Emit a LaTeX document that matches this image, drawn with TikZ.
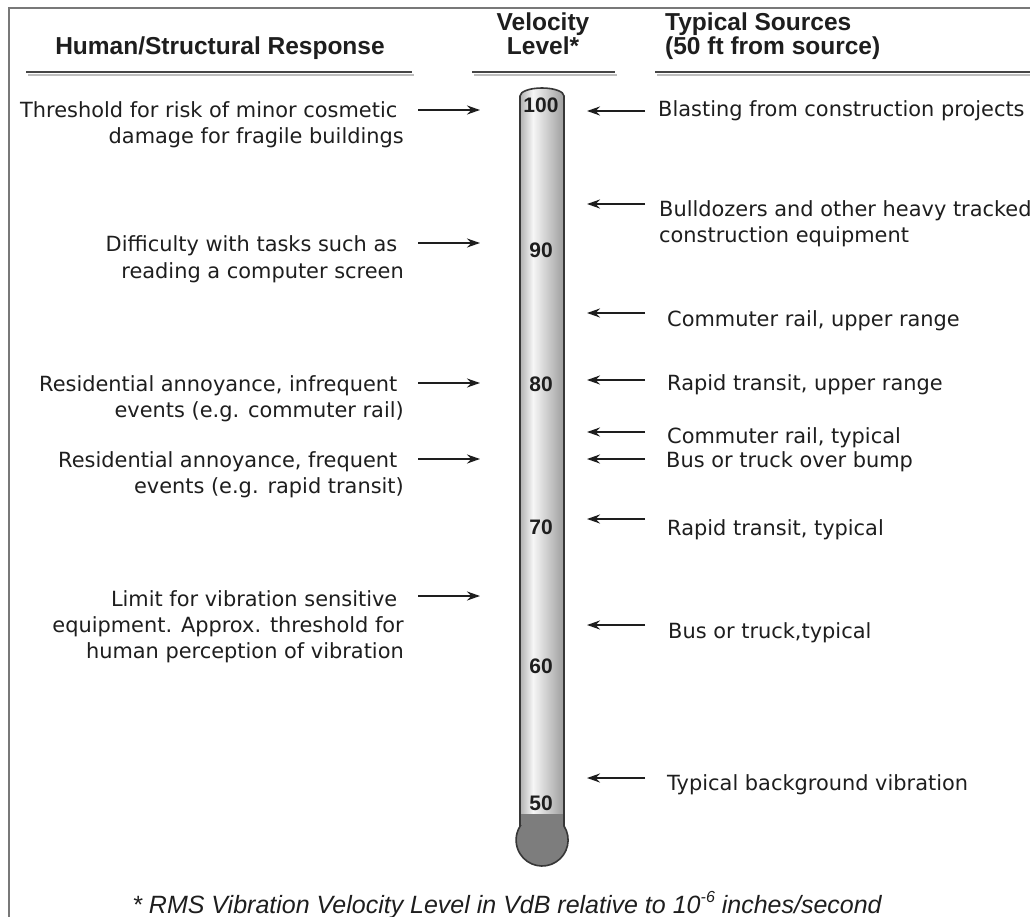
\documentclass[tikz,border=0pt]{standalone}
\usepackage{fontspec}
\setmainfont{DejaVu Sans}
\newfontfamily\hdfont{Liberation Sans}
\usetikzlibrary{arrows.meta}
\definecolor{txt}{RGB}{30,30,30}
\definecolor{framec}{RGB}{120,120,120}
\definecolor{ulc}{RGB}{70,70,70}
\definecolor{ulshadow}{RGB}{190,190,190}
\definecolor{tubeL}{RGB}{150,150,150}
\definecolor{tubeH}{RGB}{246,246,246}
\definecolor{tubeR}{RGB}{135,135,135}
\definecolor{bulbc}{RGB}{125,125,125}
\definecolor{outl}{RGB}{55,55,55}
\pgfdeclarehorizontalshading{tubeshade}{100bp}{color(0bp)=(tubeL); color(25bp)=(tubeL); color(41bp)=(tubeH); color(75bp)=(tubeR); color(100bp)=(tubeR)}
\newcommand{\thermoOutline}{(520,826) -- (520,96) arc[start angle=180, end angle=360, x radius=22, y radius=8] -- (564,826) arc[start angle=-32.6, end angle=212.6, radius=26] -- cycle}
\tikzset{
  body/.style={font=\fontsize{20.9}{26}\selectfont, inner sep=0pt, text=txt},
  hd/.style={font=\hdfont\bfseries\fontsize{24.5}{24}\selectfont, inner sep=0pt, text=txt},
  num/.style={font=\hdfont\bfseries\fontsize{21}{21}\selectfont, inner sep=0pt, text=txt},
  ft/.style={font=\hdfont\itshape\fontsize{25}{25}\selectfont, inner sep=0pt, text=txt},
  arr/.style={draw=txt, line width=2pt, -{Stealth[length=13pt, width=9pt]}},
  uline/.style={draw=ulc, line width=2.4pt},
  ushadow/.style={draw=ulshadow, line width=1.5pt},
}
\begin{document}
\begin{tikzpicture}[x=1pt, y=-1pt]
\useasboundingbox (0,0) rectangle (1030,917);
\fill[white] (0,0) rectangle (1030,917);
% frame
\draw[framec, line width=1.5pt] (9,917) -- (9,8) -- (1030,8);
% headers
\node[hd, anchor=base] (hHuman) at (220,55) {Human/Structural Response};
\node[hd, anchor=base, align=center] (hVel) at (543,55) {Velocity\\Level*};
\node[hd, anchor=base west, align=left] (hSrc) at (665,55) {Typical Sources\\(50 ft from source)};
% underlines
\coordinate (u1a) at (26,72); \coordinate (u1b) at (412,72);
\coordinate (u2a) at (472,72); \coordinate (u2b) at (615,72);
\coordinate (u3a) at (655,72); \coordinate (u3b) at (1030,72);
\coordinate (s1a) at (28,75); \coordinate (s1b) at (414,75);
\coordinate (s2a) at (474,75); \coordinate (s2b) at (617,75);
\coordinate (s3a) at (657,75); \coordinate (s3b) at (1030,75);
\draw[ushadow] (s1a) -- (s1b); \draw[ushadow] (s2a) -- (s2b); \draw[ushadow] (s3a) -- (s3b);
\draw[uline] (u1a) -- (u1b); \draw[uline] (u2a) -- (u2b); \draw[uline] (u3a) -- (u3b);
% thermometer
\shade[shading=tubeshade] \thermoOutline;
\fill[bulbc] (520,814) -- (564,814) -- (564,826) arc[start angle=-32.6, end angle=212.6, radius=26] -- cycle;
\draw[outl, line width=1.6pt] \thermoOutline;
% scale numbers
\node[num] (n100) at (541,105) {100};
\node[num] (n90) at (541,250) {90};
\node[num] (n80) at (541,384) {80};
\node[num] (n70) at (541,527) {70};
\node[num] (n60) at (541,666) {60};
\node[num] (n50) at (541,803) {50};
% left texts (anchored at the baseline of their last line)
\node[body, anchor=base east, align=right] (tL1) at (404,144) {Threshold for risk of minor cosmetic\hspace*{6.5pt}\\damage for fragile buildings};
\node[body, anchor=base east, align=right] (tL2) at (404,278) {Difficulty with tasks such as\hspace*{6.5pt}\\reading a computer screen};
\node[body, anchor=base east, align=right] (tL3) at (404,417) {Residential annoyance, infrequent\hspace*{6.5pt}\\events (e.g. commuter rail)};
\node[body, anchor=base east, align=right] (tL4) at (404,493) {Residential annoyance, frequent\hspace*{6.5pt}\\events (e.g. rapid transit)};
\node[body, anchor=base east, align=right] (tL5) at (404,658) {Limit for vibration sensitive\hspace*{6.5pt}\\equipment. Approx. threshold for\hspace*{6.5pt}\\human perception of vibration};
% left arrows
\coordinate (la1) at (418,110); \coordinate (lb1) at (480,110);
\coordinate (la2) at (418,243); \coordinate (lb2) at (480,243);
\coordinate (la3) at (418,383); \coordinate (lb3) at (480,383);
\coordinate (la4) at (418,459); \coordinate (lb4) at (480,459);
\coordinate (la5) at (418,596); \coordinate (lb5) at (480,596);
\foreach \i in {1,...,5} {\draw[arr] (la\i) -- (lb\i);}
% right texts
\node[body, anchor=base west] (tR1) at (658,117) {Blasting from construction projects};
\node[body, anchor=base west, align=left] (tR2) at (659,243) {Bulldozers and other heavy tracked\\construction equipment};
\node[body, anchor=base west] (tR3) at (667,326) {Commuter rail, upper range};
\node[body, anchor=base west] (tR4) at (667,390) {Rapid transit, upper range};
\node[body, anchor=base west] (tR5) at (667,443) {Commuter rail, typical};
\node[body, anchor=base west] (tR6) at (666,467) {Bus or truck over bump};
\node[body, anchor=base west] (tR7) at (667,535) {Rapid transit, typical};
\node[body, anchor=base west] (tR8) at (668,638) {Bus or truck,typical};
\node[body, anchor=base west] (tR9) at (667,790) {Typical background vibration};
% right arrows
\coordinate (ra1) at (645,111); \coordinate (rb1) at (587,111);
\coordinate (ra2) at (645,204); \coordinate (rb2) at (587,204);
\coordinate (ra3) at (645,313); \coordinate (rb3) at (587,313);
\coordinate (ra4) at (645,380); \coordinate (rb4) at (587,380);
\coordinate (ra5) at (645,432); \coordinate (rb5) at (587,432);
\coordinate (ra6) at (645,459); \coordinate (rb6) at (587,459);
\coordinate (ra7) at (645,519); \coordinate (rb7) at (587,519);
\coordinate (ra8) at (645,625); \coordinate (rb8) at (587,625);
\coordinate (ra9) at (645,778); \coordinate (rb9) at (587,778);
\foreach \i in {1,...,9} {\draw[arr] (ra\i) -- (rb\i);}
% footnote
\node[ft, anchor=base] (foot) at (507,913) {* RMS Vibration Velocity Level in VdB relative to 10\raisebox{0.42em}{\fontsize{16}{16}\selectfont -6} inches/second};
\end{tikzpicture}
\end{document}
